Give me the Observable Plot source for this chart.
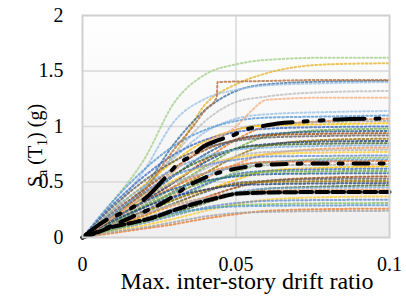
<!DOCTYPE html>
<html><head><meta charset="utf-8">
<script src="https://cdn.jsdelivr.net/npm/d3@7"></script>
<script src="https://cdn.jsdelivr.net/npm/@observablehq/plot@0.6"></script>
<style>
html,body{margin:0;padding:0;background:#fff}
svg{display:block}
svg text{font-family:"Liberation Serif","Times New Roman",serif !important;}
</style>
</head><body><div id="chart"></div>
<script>
// ---- data ----
const xTicks = [0, 0.05, 0.1];
const yTicks = [0, 0.5, 1, 1.5, 2];
const xGrid = [0.05];
const yGrid = [0.5, 1, 1.5];
const xLabel = "Max. inter-story drift ratio";
const yLabel = "Sa (T1) (g)";

// drift ratios shared by the record curves
const xs = [0, 0.01, 0.02, 0.03, 0.04, 0.05, 0.06, 0.08, 0.1];
// Sa values of the individual record IDA curves (dotted)
const saCurves = [
  [0, .33, .70, 1.22, 1.47, 1.56, 1.60, 1.62, 1.62],
  [0, .20, .45, .75, 1.20, 1.38, 1.48, 1.56, 1.57],
  [0, .20, .45, .85, 1.15, 1.32, 1.38, 1.405, 1.41],
  [0, .25, .60, 1.05, 1.25, 1.33, 1.37, 1.39, 1.40],
  [0, .20, .42, .75, 1.05, 1.22, 1.27, 1.31, 1.32],
  [0, .20, .45, .72, .95, 1.07, 1.11, 1.13, 1.14],
  [0, .33, .61, .83, .97, 1.05, 1.08, 1.09, 1.10],
  [0, .16, .32, .50, .70, .88, 1.00, 1.05, 1.07],
  [0, .21, .40, .61, .82, .97, 1.02, 1.04, 1.05],
  [0, .25, .47, .69, .87, .97, 1.01, 1.02, 1.03],
  [0, .30, .55, .75, .88, .95, .98, .995, 1.00],
  [0, .15, .29, .46, .64, .80, .91, .97, .98],
  [0, .19, .36, .56, .75, .88, .93, .955, .96],
  [0, .23, .43, .63, .79, .88, .92, .935, .94],
  [0, .28, .51, .69, .81, .87, .90, .915, .92],
  [0, .13, .27, .42, .58, .73, .83, .88, .89],
  [0, .17, .33, .50, .68, .80, .84, .865, .87],
  [0, .20, .39, .57, .71, .80, .83, .845, .85],
  [0, .25, .46, .62, .73, .79, .81, .825, .83],
  [0, .12, .24, .38, .53, .66, .75, .80, .81],
  [0, .16, .30, .46, .62, .73, .77, .785, .79],
  [0, .18, .35, .52, .65, .72, .75, .765, .77],
  [0, .22, .41, .56, .65, .70, .73, .735, .74],
  [0, .11, .22, .34, .47, .59, .67, .71, .72],
  [0, .14, .27, .41, .55, .64, .68, .695, .70],
  [0, .17, .32, .46, .58, .65, .68, .685, .69],
  [0, .20, .36, .50, .58, .63, .65, .655, .66],
  [0, .10, .19, .30, .42, .52, .60, .63, .64],
  [0, .12, .24, .36, .48, .57, .60, .615, .62],
  [0, .14, .28, .40, .50, .56, .59, .597, .60],
  [0, .17, .32, .44, .51, .55, .57, .577, .58],
  [0, .08, .17, .26, .36, .45, .51, .54, .55],
  [0, .11, .20, .31, .41, .49, .51, .527, .53],
  [0, .12, .23, .34, .43, .48, .50, .507, .51],
  [0, .15, .27, .37, .43, .47, .48, .487, .49],
  [0, .07, .14, .22, .31, .39, .44, .46, .47],
  [0, .09, .17, .26, .35, .41, .44, .448, .45],
  [0, .10, .20, .29, .36, .40, .42, .428, .43],
  [0, .12, .22, .30, .35, .38, .39, .398, .40],
  [0, .06, .11, .17, .24, .30, .34, .364, .37],
  [0, .07, .13, .20, .27, .31, .33, .338, .34],
  [0, .07, .14, .21, .26, .29, .30, .308, .31],
  [0, .09, .16, .22, .26, .28, .285, .289, .29],
  [0, .04, .08, .12, .17, .21, .24, .256, .26],
  [0, .05, .09, .14, .19, .22, .23, .238, .24]
];
// two records with a sudden jump
const jumpAX = [0, .01, .02, .03, .036, .04, .0437, .0440, .06, .08, .1];
const jumpAY = [0, .18, .42, .80, 1.0, 1.15, 1.26, 1.40, 1.41, 1.42, 1.42];
const jumpBX = [0, .01, .02, .03, .04, .05, .055, .06, .08, .1];
const jumpBY = [0, .18, .38, .60, .85, 1.0, 1.14, 1.24, 1.26, 1.26];

// fractile curves (black)
const p84X = [0, .0075, .0124, .0173, .0215, .027, .0313, .0358, .0394, .044, .0489, .0531, .058, .0635, .072, .083, .1];
const p84Y = [0, .153, .216, .288, .378, .54, .667, .739, .82, .874, .919, .973, 1.0, 1.027, 1.045, 1.063, 1.072];
const p50X = [0, .0091, .0173, .026, .031, .034, .0384, .0433, .0476, .0524, .0619, .0762, .1];
const p50Y = [0, .10, .20, .31, .40, .46, .52, .575, .605, .632, .658, .667, .667];
const p16X = [0, .0049, .0081, .015, .0221, .0296, .0368, .0443, .0508, .0603, .0808, .1];
const p16Y = [0, .045, .081, .126, .171, .243, .306, .36, .396, .405, .41, .41];

// ---- styles ----
const topColors = ["#a9d18e", "#e8b630", "#41719c", "#9dc3e6", "#bfbfbf", "#9dc3e6"];
const palette = ["#5b9bd5","#ed7d31","#a5a5a5","#ffc000","#4472c4","#70ad47","#255e91","#9e480e","#636363","#997300","#264478","#43682b","#7cafdd","#f1975a","#b7b7b7","#ffcd33","#698ed0","#8cc168"];

const rows = [];
saCurves.forEach((ys, i) => {
  const color = i < topColors.length ? topColors[i] : palette[(i - topColors.length) % palette.length];
  ys.forEach((v, j) => rows.push({id: "c" + i, x: xs[j], y: v, color}));
});
jumpAX.forEach((x, j) => rows.push({id: "jA", x, y: jumpAY[j], color: "#b5703d"}));
jumpBX.forEach((x, j) => rows.push({id: "jB", x, y: jumpBY[j], color: "#f4b183"}));

const toRows = (X, Y) => X.map((x, j) => ({x, y: Y[j]}));

const font = "'Liberation Serif', 'Times New Roman', serif";
const chart = Plot.plot({
  width: 406, height: 296,
  marginLeft: 82, marginRight: 17, marginTop: 15, marginBottom: 59,
  x: {domain: [0, 0.1]},
  y: {domain: [0, 2]},
  color: {type: "identity"},
  style: {fontFamily: font, fontSize: "20px", color: "#000", background: "#fff", overflow: "visible"},
  marks: [
    Plot.frame({fill: "url(#bgGrad)", stroke: null}),
    Plot.gridY(yGrid, {stroke: "#d9d9d9", strokeOpacity: 1, strokeWidth: 1.5}),
    Plot.gridX(xGrid, {stroke: "#d9d9d9", strokeOpacity: 1, strokeWidth: 1.5}),
    Plot.line(rows, {x: "x", y: "y", z: "id", stroke: "color", strokeWidth: 2, strokeDasharray: "1.8,2.4", strokeOpacity: 0.8, curve: "monotone-x"}),
    Plot.line(toRows(p16X, p16Y), {x: "x", y: "y", stroke: "#000", strokeWidth: 4, strokeDasharray: "12,4", curve: "monotone-x"}),
    Plot.line(toRows(p50X, p50Y), {x: "x", y: "y", stroke: "#000", strokeWidth: 4, strokeDasharray: "15,11,4,11", curve: "monotone-x"}),
    Plot.line(toRows(p84X, p84Y), {x: "x", y: "y", stroke: "#000", strokeWidth: 4, strokeDasharray: "30,11,4,12,4,11", curve: "monotone-x"}),
    Plot.frame({stroke: "#d0d0d0", strokeWidth: 2}),
    Plot.axisX(xTicks, {tickSize: 0, tickPadding: 19, tickFormat: d => String(d), label: null}),
    Plot.axisY(yTicks, {tickSize: 0, tickPadding: 19, tickFormat: d => String(d), label: null}),
    Plot.text([xLabel], {frameAnchor: "bottom", textAnchor: "middle", lineAnchor: "middle", dx: 11, dy: 44, fontSize: 24}),
    Plot.text([yLabel], {frameAnchor: "left", textAnchor: "middle", lineAnchor: "middle", rotate: -90, dx: -47, dy: 19, fontSize: 20})
  ]
});

const svg = d3.select(chart.tagName.toLowerCase() === "svg" ? chart : chart.querySelector("svg"));
const defs = svg.insert("defs", ":first-child");
const g = defs.append("linearGradient").attr("id", "bgGrad").attr("x1", 0).attr("y1", 0).attr("x2", 0).attr("y2", 1);
g.append("stop").attr("offset", "0%").attr("stop-color", "#ffffff");
g.append("stop").attr("offset", "100%").attr("stop-color", "#efefef");

// subscripts in the y label
svg.selectAll("text").filter(function() { return this.textContent === yLabel; }).each(function() {
  const t = d3.select(this);
  t.text(null);
  t.append("tspan").text("S");
  t.append("tspan").attr("dy", 5).attr("font-size", 14).text("a");
  t.append("tspan").attr("dy", -5).text(" (T");
  t.append("tspan").attr("dy", 5).attr("font-size", 14).text("1");
  t.append("tspan").attr("dy", -5).text(") (g)");
});

document.getElementById("chart").append(chart);
</script></body></html>
